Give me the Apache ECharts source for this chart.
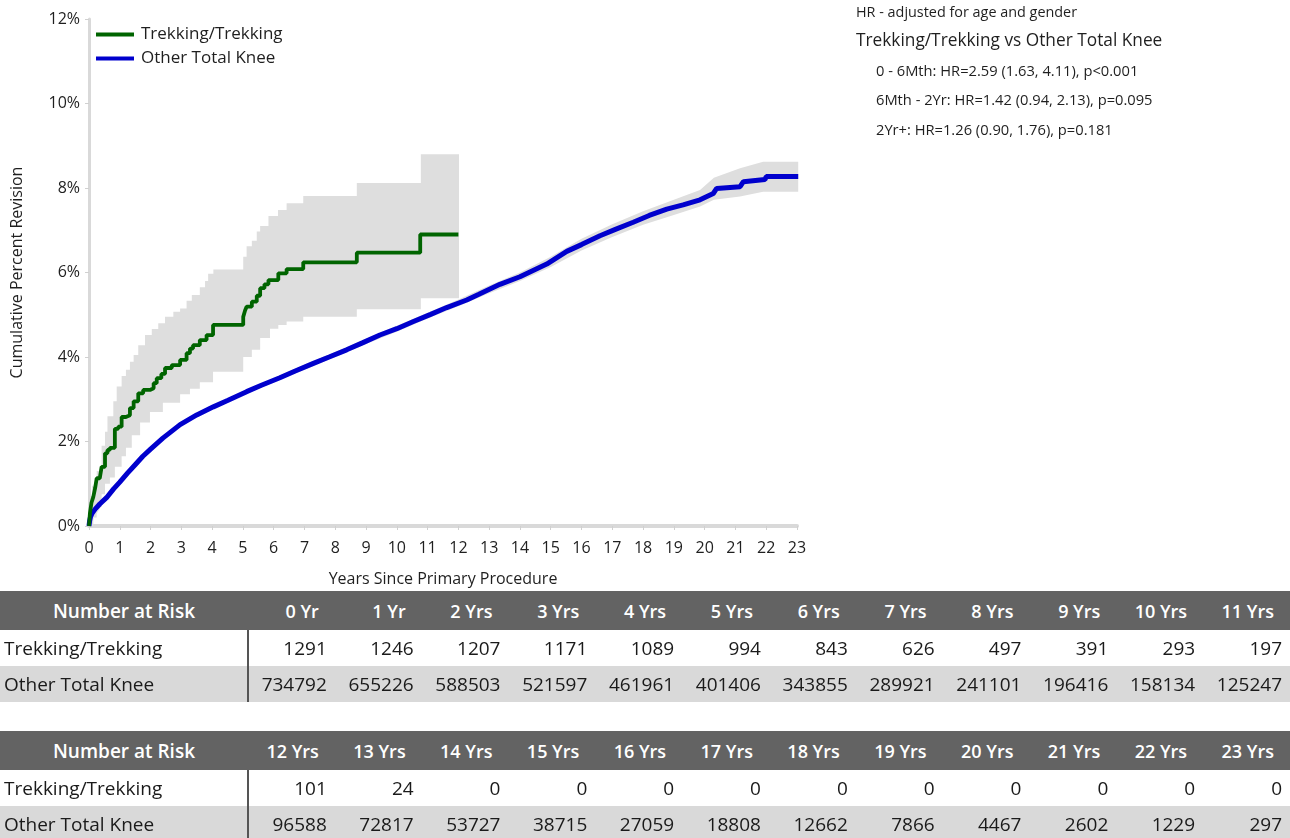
<!DOCTYPE html>
<html>
<head>
<meta charset="utf-8">
<script src="https://cdn.jsdelivr.net/npm/echarts@6/dist/echarts.min.js"></script>
<style>
  html, body { margin: 0; padding: 0; background: #fff; }
  #wrap { position: relative; width: 1290px; height: 838px; overflow: hidden; font-family: "Open Sans", sans-serif; }
  #chart { position: absolute; left: 0; top: 0; width: 1290px; height: 838px; }
  .risk { position: absolute; left: 0; width: 1290px; border-collapse: collapse; table-layout: fixed; color: #1a1a1a; }
  .risk td, .risk th { padding: 0; white-space: nowrap; overflow: hidden; }
  .risk th { background: #636363; color: #fff; font-weight: 600; font-size: 18px; height: 39px; text-align: right; padding-right: 16px; }
  .risk th.first { text-align: center; padding-right: 0; font-size: 19px; }
  .risk td { font-size: 19px; height: 36px; text-align: right; padding-right: 8px; }
  .risk td.first { text-align: left; padding-left: 4px; border-right: 2px solid #555; }
  .risk tr.alt td { background: #d9d9d9; }
</style>
</head>
<body>
<div id="wrap">
  <div id="chart"></div>
</div>
<script>
// ---------------- DATA ----------------
const seriesNames = ['Trekking/Trekking', 'Other Total Knee'];

// Trekking/Trekking: Kaplan-Meier step curve [years, cumulative % revision]
const trekCurve = [
  [0,0],[0.03,0.3],[0.08,0.55],[0.14,0.69],[0.2,0.9],[0.25,1.13],[0.35,1.15],[0.41,1.4],[0.52,1.72],
  [0.6,1.8],[0.68,1.85],[0.84,2.3],[0.95,2.35],[1.06,2.58],[1.2,2.62],[1.33,2.79],[1.45,2.95],
  [1.6,3.14],[1.76,3.22],[1.98,3.26],[2.1,3.38],[2.2,3.5],[2.35,3.6],[2.47,3.74],[2.69,3.81],
  [2.96,3.93],[3.17,4.09],[3.28,4.2],[3.38,4.28],[3.6,4.4],[3.82,4.52],[4.03,4.76],[5.01,4.95],
  [5.07,5.1],[5.12,5.19],[5.29,5.31],[5.45,5.45],[5.56,5.63],[5.7,5.72],[5.83,5.82],[6.15,5.98],
  [6.42,6.08],[6.96,6.24],[8.7,6.47],[10.76,6.9],[12.0,6.9]
];
// Trekking/Trekking 95% CI bounds (step)
const trekUpper = [
  [0,0],[0.03,0.5],[0.1,0.95],[0.25,1.3],[0.41,1.9],[0.52,2.23],[0.6,2.6],[0.79,2.95],[0.9,3.3],
  [1.06,3.55],[1.2,3.7],[1.33,3.89],[1.45,4.05],[1.6,4.28],[1.82,4.52],[2.04,4.66],[2.25,4.8],
  [2.47,4.95],[2.74,5.07],[2.96,5.15],[3.17,5.33],[3.34,5.47],[3.6,5.65],[3.77,5.8],[3.87,5.97],
  [4.04,6.07],[5.01,6.37],[5.12,6.62],[5.29,6.75],[5.45,6.97],[5.56,7.1],[5.83,7.34],[6.14,7.48],
  [6.42,7.64],[6.96,7.81],[8.7,8.12],[10.78,8.8],[12.02,8.8]
];
const trekLower = [
  [0,0],[0.14,0.2],[0.25,0.45],[0.41,0.75],[0.52,1.0],[0.68,1.15],[0.84,1.4],[1.06,1.65],[1.2,1.85],
  [1.39,2.15],[1.66,2.45],[1.98,2.7],[2.4,2.92],[2.96,3.12],[3.28,3.25],[3.6,3.4],[4.03,3.65],
  [5.01,4.0],[5.29,4.17],[5.56,4.45],[5.88,4.67],[6.15,4.76],[6.42,4.84],[6.96,4.95],[8.7,5.13],
  [10.78,5.39],[12.02,5.39]
];

// Other Total Knee curve [years, cumulative % revision]
const otherCurve = [
  [0,0],[0.02,0.12],[0.05,0.22],[0.1,0.3],[0.2,0.4],[0.35,0.52],[0.57,0.67],[0.8,0.88],[1.0,1.04],
  [1.25,1.25],[1.5,1.45],[1.75,1.65],[2.0,1.82],[2.4,2.08],[2.96,2.4],[3.5,2.63],[4.04,2.82],
  [4.5,2.97],[5.12,3.18],[5.6,3.33],[6.2,3.51],[6.7,3.67],[7.29,3.85],[7.8,4.0],[8.37,4.17],
  [8.9,4.34],[9.45,4.52],[10.0,4.67],[10.54,4.84],[11.1,5.01],[11.62,5.17],[12.27,5.35],
  [12.65,5.48],[13.35,5.72],[14.0,5.9],[14.87,6.2],[15.52,6.5],[16.0,6.66],[16.6,6.87],
  [17.1,7.02],[17.68,7.19],[18.2,7.35],[18.77,7.5],[19.3,7.6],[19.85,7.72],[20.28,7.87],
  [20.39,7.99],[21.15,8.03],[21.26,8.15],[21.96,8.2],[22.0,8.27],[23.04,8.27]
];
// Other Total Knee 95% CI bounds
const otherBandYears = [0, 0.5, 1, 2, 3, 4, 5, 6, 7, 8, 9, 10, 11, 12, 13, 14, 15, 16, 17, 18, 19, 19.85, 20.3, 21.15, 21.9, 23.04];
const otherUpper     = [0, 0.65, 1.07, 1.85, 2.45, 2.85, 3.19, 3.5, 3.82, 4.12, 4.43, 4.74, 5.05, 5.36, 5.69, 6.0, 6.37, 6.8, 7.14, 7.45, 7.72, 7.95, 8.24, 8.47, 8.62, 8.62];
const otherLower     = [0, 0.59, 1.01, 1.79, 2.39, 2.78, 3.09, 3.4, 3.7, 4.0, 4.31, 4.6, 4.91, 5.2, 5.51, 5.8, 6.13, 6.52, 6.84, 7.13, 7.36, 7.56, 7.72, 7.8, 7.91, 7.91];

// Hazard ratio notes
const hrTitle = 'HR - adjusted for age and gender';
const hrCompare = 'Trekking/Trekking vs Other Total Knee';
const hrLines = [
  '0 - 6Mth: HR=2.59 (1.63, 4.11), p<0.001',
  '6Mth - 2Yr: HR=1.42 (0.94, 2.13), p=0.095',
  '2Yr+: HR=1.26 (0.90, 1.76), p=0.181'
];

// Number at risk
const riskHeaderLabel = 'Number at Risk';
const riskYearsA = ['0 Yr','1 Yr','2 Yrs','3 Yrs','4 Yrs','5 Yrs','6 Yrs','7 Yrs','8 Yrs','9 Yrs','10 Yrs','11 Yrs'];
const riskTrekA  = [1291,1246,1207,1171,1089,994,843,626,497,391,293,197];
const riskOtherA = [734792,655226,588503,521597,461961,401406,343855,289921,241101,196416,158134,125247];
const riskYearsB = ['12 Yrs','13 Yrs','14 Yrs','15 Yrs','16 Yrs','17 Yrs','18 Yrs','19 Yrs','20 Yrs','21 Yrs','22 Yrs','23 Yrs'];
const riskTrekB  = [101,24,0,0,0,0,0,0,0,0,0,0];
const riskOtherB = [96588,72817,53727,38715,27059,18808,12662,7866,4467,2602,1229,297];

// ---------------- CHART ----------------
const FONT = '"Open Sans", sans-serif';
const TXT = '#1f1f1f';
const GREEN = '#006400';
const BLUE = '#0000cd';
const BAND = '#dedede';

function stepPath(arr) {
  const out = [];
  arr.forEach((p, i) => {
    if (i > 0) out.push([p[0], arr[i - 1][1]]);
    out.push([p[0], p[1]]);
  });
  return out;
}

function stepBand(upper, lower) {
  return function (params, api) {
    const up = stepPath(upper);
    const lo = stepPath(lower).reverse();
    const pts = up.concat(lo).map(p => api.coord(p));
    return { type: 'polygon', shape: { points: pts }, style: { fill: BAND } };
  };
}

function linearBand(xs, upper, lower) {
  return function (params, api) {
    const up = xs.map((x, i) => [x, upper[i]]);
    const lo = xs.map((x, i) => [x, lower[i]]).reverse();
    const pts = up.concat(lo).map(p => api.coord(p));
    return { type: 'polygon', shape: { points: pts }, style: { fill: BAND } };
  };
}

const chart = echarts.init(document.getElementById('chart'), null, { renderer: 'canvas' });

const graphics = [
  { type: 'text', left: 856, top: 6, style: { text: hrTitle, font: '14.4px ' + FONT, fill: TXT } },
  { type: 'text', left: 856, top: 33, style: { text: hrCompare, font: '17.3px ' + FONT, fill: TXT } }
];
hrLines.forEach((t, i) => {
  graphics.push({ type: 'text', left: 876, top: 64 + i * 29.5, style: { text: t, font: '14.7px ' + FONT, fill: TXT } });
});

chart.setOption({
  animation: false,
  textStyle: { fontFamily: FONT },
  grid: { left: 89, right: 493, top: 19, bottom: 312, containLabel: false },
  legend: {
    data: seriesNames,
    orient: 'vertical',
    left: 91, top: 21,
    icon: 'rect',
    itemWidth: 38, itemHeight: 4,
    itemGap: 7,
    textStyle: { fontSize: 17, color: TXT, fontFamily: FONT, padding: [0, 0, 0, 2] }
  },
  xAxis: {
    type: 'value', min: 0, max: 23, interval: 1,
    name: 'Years Since Primary Procedure', nameLocation: 'middle', nameGap: 45,
    nameTextStyle: { fontSize: 16, color: TXT },
    axisLine: { show: true, lineStyle: { color: '#d9d9d9', width: 4 } },
    axisTick: { show: true, length: 4, lineStyle: { color: '#d0d0d0', width: 1 } },
    axisLabel: { fontSize: 16, color: TXT, margin: 14 },
    splitLine: { show: false }
  },
  yAxis: {
    type: 'value', min: 0, max: 12, interval: 2,
    name: 'Cumulative Percent Revision', nameLocation: 'middle', nameRotate: 90, nameGap: 64,
    nameTextStyle: { fontSize: 16, color: TXT },
    axisLine: { show: true, lineStyle: { color: '#d9d9d9', width: 3 } },
    axisTick: { show: true, length: 4, lineStyle: { color: '#d0d0d0', width: 1 } },
    axisLabel: { fontSize: 16, color: TXT, margin: 9, formatter: '{value}%' },
    splitLine: { show: false }
  },
  graphic: graphics,
  series: [
    { type: 'custom', name: 'trekBand', silent: true, z: 1, data: [[0, 0]], renderItem: stepBand(trekUpper, trekLower) },
    { type: 'custom', name: 'otherBand', silent: true, z: 1, data: [[0, 0]], renderItem: linearBand(otherBandYears, otherUpper, otherLower) },
    {
      type: 'line', name: seriesNames[1], data: otherCurve, showSymbol: false, z: 3,
      lineStyle: { color: BLUE, width: 5 }, itemStyle: { color: BLUE }
    },
    {
      type: 'line', name: seriesNames[0], data: trekCurve, step: 'end', showSymbol: false, z: 4,
      lineStyle: { color: GREEN, width: 3.8 }, itemStyle: { color: GREEN }
    }
  ]
});

// ---------------- TABLES ----------------
function buildTable(top, years, trek, other) {
  const tbl = document.createElement('table');
  tbl.className = 'risk';
  tbl.style.top = top + 'px';
  const cg = document.createElement('colgroup');
  const c0 = document.createElement('col'); c0.style.width = '248px'; cg.appendChild(c0);
  years.forEach(() => { const c = document.createElement('col'); c.style.width = ((1290 - 248) / years.length) + 'px'; cg.appendChild(c); });
  tbl.appendChild(cg);
  const hr = document.createElement('tr');
  const h0 = document.createElement('th'); h0.className = 'first'; h0.textContent = riskHeaderLabel; hr.appendChild(h0);
  years.forEach(y => { const th = document.createElement('th'); th.textContent = y; hr.appendChild(th); });
  tbl.appendChild(hr);
  [[seriesNames[0], trek, ''], [seriesNames[1], other, 'alt']].forEach(([name, vals, cls]) => {
    const tr = document.createElement('tr'); if (cls) tr.className = cls;
    const td0 = document.createElement('td'); td0.className = 'first'; td0.textContent = name; tr.appendChild(td0);
    vals.forEach(v => { const td = document.createElement('td'); td.textContent = v; tr.appendChild(td); });
    tbl.appendChild(tr);
  });
  document.getElementById('wrap').appendChild(tbl);
}
buildTable(591, riskYearsA, riskTrekA, riskOtherA);
buildTable(731, riskYearsB, riskTrekB, riskOtherB);
</script>
</body>
</html>
